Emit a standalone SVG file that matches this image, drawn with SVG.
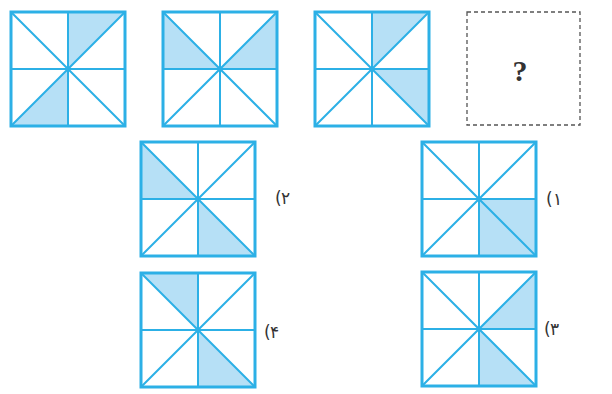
<svg xmlns="http://www.w3.org/2000/svg" xmlns:xlink="http://www.w3.org/1999/xlink" width="612" height="394" viewBox="0 0 612 394">
<style>
.sh{fill:#b6e0f6;stroke:none}
.ln{stroke:#2cb0e6;stroke-width:2;fill:none}
.bx{stroke:#2cb0e6;stroke-width:3;fill:none}
.lbl{font-family:"DejaVu Sans",sans-serif;font-size:17px;fill:#333}
</style>
<defs>
<g id="grid">
<path class="ln" d="M57,0V114M0,57H114M0,0L114,114M114,0L0,114"/>
<rect class="bx" x="0" y="0" width="114" height="114"/>
<circle cx="57" cy="57" r="2.5" fill="#2cb0e6"/>
</g>
</defs>
<rect width="612" height="394" fill="#fff"/>
<g id="sq1" transform="translate(11,12)">
<polygon class="sh" points="57,0 114,0 57,57"/>
<polygon class="sh" points="0,114 57,114 57,57"/>
<use xlink:href="#grid"/>
</g>
<g id="sq2" transform="translate(163,12)">
<polygon class="sh" points="0,0 0,57 57,57"/>
<polygon class="sh" points="114,0 114,57 57,57"/>
<use xlink:href="#grid"/>
</g>
<g id="sq3" transform="translate(315,12)">
<polygon class="sh" points="57,0 114,0 57,57"/>
<polygon class="sh" points="114,57 114,114 57,57"/>
<use xlink:href="#grid"/>
</g>
<g id="q">
<rect x="467" y="12" width="113" height="113" fill="none" stroke="#555" stroke-width="1.3" stroke-dasharray="4,3"/>
<text x="520" y="81" text-anchor="middle" font-family="Liberation Serif,serif" font-weight="bold" font-size="30" fill="#333">?</text>
</g>
<g id="opt2" transform="translate(141,142)">
<polygon class="sh" points="0,0 0,57 57,57"/>
<polygon class="sh" points="114,114 57,114 57,57"/>
<use xlink:href="#grid"/>
</g>
<g id="lbl2"><text class="lbl" x="275" y="204">(</text><text class="lbl" x="281" y="204">۲</text></g>
<g id="opt1" transform="translate(422,142)">
<polygon class="sh" points="57,57 114,57 114,114 57,114"/>
<use xlink:href="#grid"/>
</g>
<g id="lbl1"><text class="lbl" x="546" y="205">(</text><text class="lbl" x="553" y="205">۱</text></g>
<g id="opt4" transform="translate(141,273)">
<polygon class="sh" points="57,0 0,0 57,57"/>
<polygon class="sh" points="114,114 57,114 57,57"/>
<use xlink:href="#grid"/>
</g>
<g id="lbl4"><text class="lbl" x="264" y="338">(</text><text class="lbl" x="270" y="338">۴</text></g>
<g id="opt3" transform="translate(422,272)">
<polygon class="sh" points="114,0 114,57 57,57"/>
<polygon class="sh" points="114,114 57,114 57,57"/>
<use xlink:href="#grid"/>
</g>
<g id="lbl3"><text class="lbl" x="544" y="335">(</text><text class="lbl" x="550" y="335">۳</text></g>
</svg>
